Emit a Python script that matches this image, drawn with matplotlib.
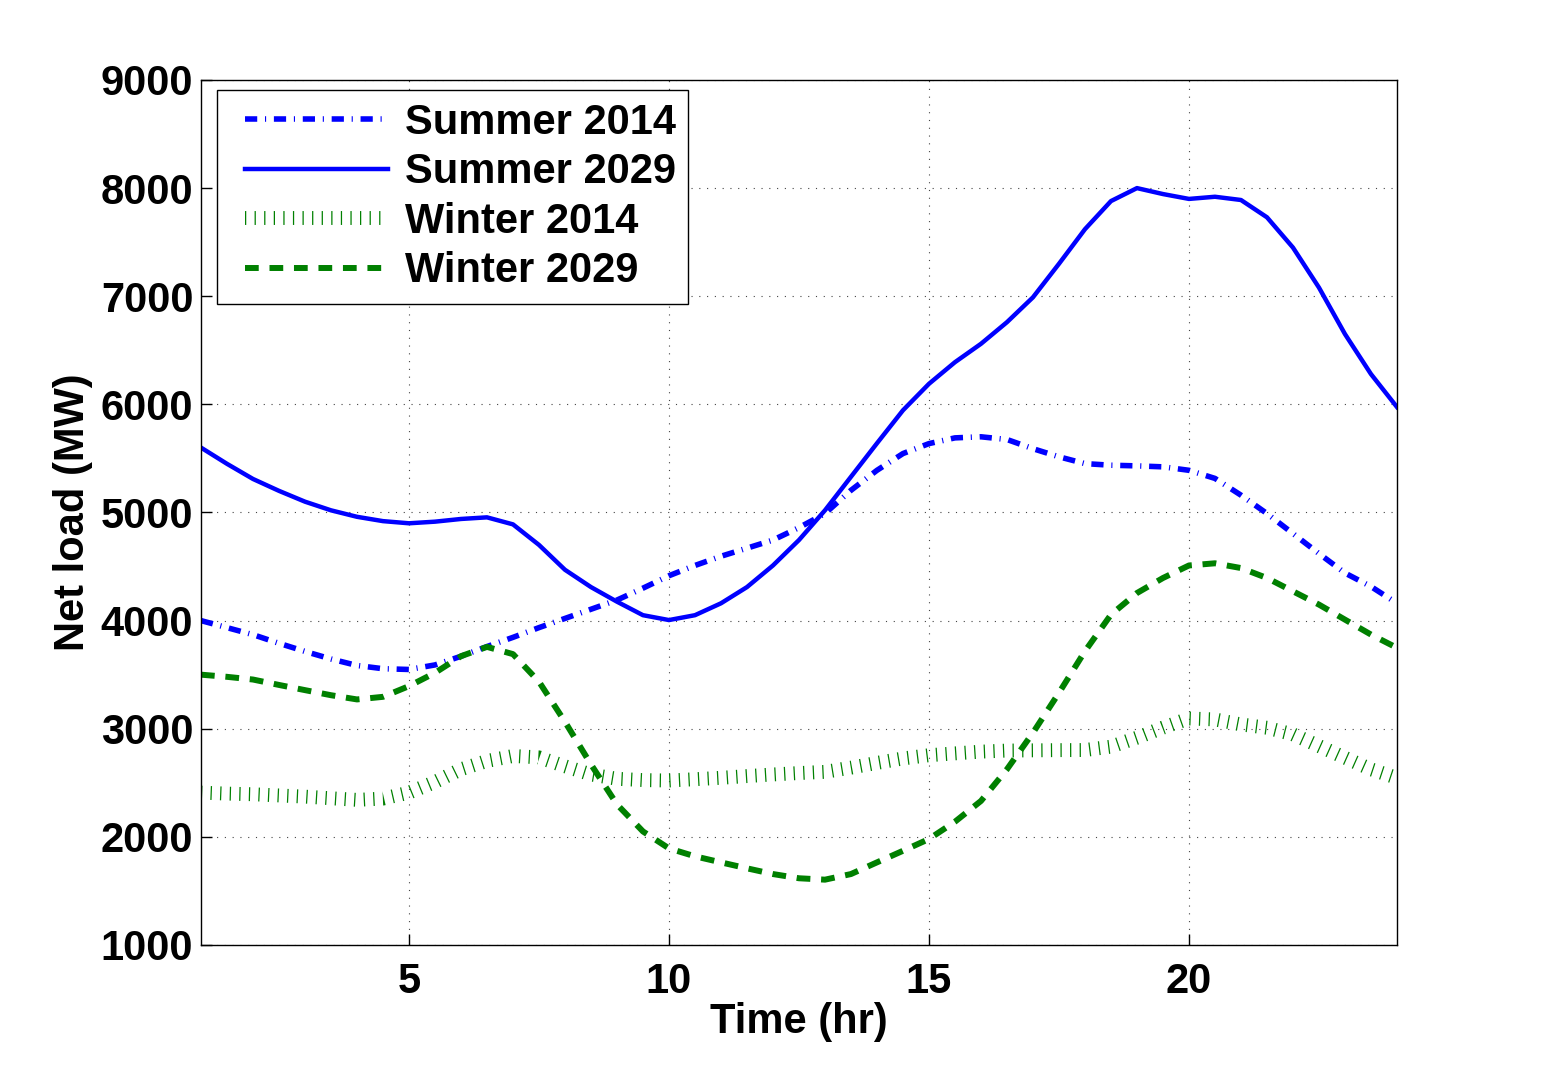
import matplotlib
matplotlib.use("Agg")
import matplotlib.pyplot as plt
from matplotlib.legend_handler import HandlerLine2D

plt.rcParams['font.family'] = ['Liberation Sans', 'DejaVu Sans']
plt.rcParams['font.weight'] = 'bold'

hours = [1, 1.5, 2, 2.5, 3, 3.5, 4, 4.5, 5, 5.5, 6, 6.5, 7, 7.5, 8, 8.5, 9, 9.5, 10, 10.5,
         11, 11.5, 12, 12.5, 13, 13.5, 14, 14.5, 15, 15.5, 16, 16.5, 17, 17.5, 18, 18.5,
         19, 19.5, 20, 20.5, 21, 21.5, 22, 22.5, 23, 23.5, 24]
summer_2014 = [4000, 3935, 3870, 3790, 3715, 3645, 3585, 3555, 3548, 3590, 3670, 3760,
               3845, 3935, 4020, 4105, 4190, 4300, 4415, 4510, 4595, 4670, 4745, 4860,
               4990, 5205, 5390, 5545, 5637, 5690, 5700, 5675, 5590, 5515, 5452, 5437,
               5431, 5422, 5390, 5315, 5160, 4990, 4805, 4620, 4440, 4315, 4160]
summer_2029 = [5600, 5450, 5310, 5200, 5100, 5020, 4960, 4920, 4900, 4915, 4940, 4955,
               4890, 4700, 4470, 4310, 4175, 4050, 4005, 4050, 4160, 4310, 4510, 4745,
               5020, 5330, 5640, 5945, 6190, 6390, 6560, 6760, 6990, 7300, 7620, 7880,
               8000, 7945, 7900, 7920, 7890, 7730, 7450, 7080, 6650, 6280, 5975]
winter_2014 = [2409, 2400, 2394, 2383, 2372, 2357, 2342, 2354, 2409, 2508, 2625, 2702,
               2748, 2735, 2653, 2577, 2537, 2525, 2521, 2533, 2546, 2562, 2577, 2590,
               2601, 2640, 2684, 2725, 2755, 2772, 2788, 2798, 2800, 2802, 2803, 2834,
               2917, 3010, 3095, 3086, 3040, 3009, 2948, 2840, 2732, 2625, 2545]
winter_2029 = [3500, 3480, 3455, 3405, 3357, 3310, 3271, 3295, 3394, 3517, 3671, 3757,
               3690, 3435, 3064, 2670, 2300, 2050, 1893, 1820, 1764, 1709, 1656, 1617,
               1604, 1656, 1764, 1871, 1980, 2140, 2332, 2625, 2963, 3332, 3717, 4055,
               4255, 4394, 4510, 4530, 4486, 4394, 4271, 4148, 4009, 3871, 3748]
labels = ["Summer 2014", "Summer 2029", "Winter 2014", "Winter 2029"]
xticks = [5, 10, 15, 20]
yticks = list(range(1000, 10000, 1000))

FS = 30

fig = plt.figure(figsize=(15.46, 10.65), dpi=100)
ax = fig.add_axes([0.130, 0.1127, 0.7736, 0.8122])

l1, = ax.plot(hours, summer_2014, color='#0000ff', lw=4.0, linestyle=(0, (2.2, 1.4, 0.2, 1.4)),
              dash_capstyle='butt', label=labels[0])
l2, = ax.plot(hours, summer_2029, color='#0000ff', lw=3.2, linestyle='-', label=labels[1])
l3, = ax.plot(hours, winter_2014, color='#008000', lw=10, linestyle=(0, (0.09, 0.6)),
              dash_capstyle='butt', label=labels[2])
l4, = ax.plot(hours, winter_2029, color='#008000', lw=4.3, linestyle=(0, (2.3, 1.8)),
              dash_capstyle='butt', label=labels[3])

ax.set_xlim(1, 24)
ax.set_ylim(1000, 9000)
ax.set_xticks(xticks)
ax.set_yticks(yticks)
ax.tick_params(direction='in', length=8, width=1, labelsize=FS)
ax.tick_params(axis='x', pad=12)
ax.tick_params(axis='y', pad=5.5)
for lab in ax.get_xticklabels() + ax.get_yticklabels():
    lab.set_fontweight('bold')
ax.grid(True, color='#444444', linestyle=(0, (1, 6)), linewidth=0.8)
for s in ax.spines.values():
    s.set_linewidth(1.0)

ax.set_xlabel("Time (hr)", fontsize=FS, fontweight='bold', labelpad=0)
ax.set_ylabel("Net load (MW)", fontsize=FS, fontweight='bold', labelpad=5.5)

hm = {h: HandlerLine2D(xpad=0.37) for h in (l1, l2, l3, l4)}
leg = ax.legend(handles=[l1, l2, l3, l4], loc='upper left',
                bbox_to_anchor=(0.0134, 0.9884), borderaxespad=0,
                handlelength=3.8, handletextpad=0.4,
                labelspacing=0.23, borderpad=0.3, handler_map=hm,
                fancybox=False, framealpha=1, edgecolor='black',
                prop={'weight': 'bold', 'size': FS})
leg.get_frame().set_linewidth(1.0)

fig.savefig("out.png", dpi=100)
